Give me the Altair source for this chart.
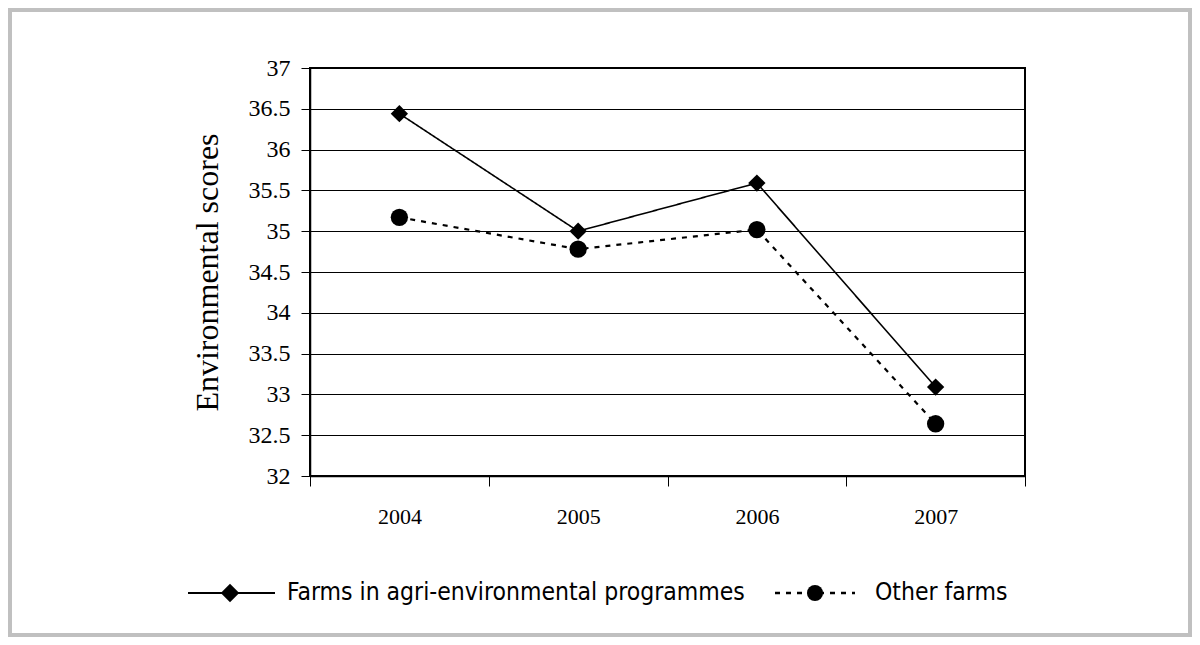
import altair as alt
import pandas as pd

years = ["2004", "2005", "2006", "2007"]
series_names = ["Farms in agri-environmental programmes", "Other farms"]
farms_agri = [36.44, 35.0, 35.59, 33.09]
other_farms = [35.17, 34.78, 35.02, 32.64]
y_ticks = [32, 32.5, 33, 33.5, 34, 34.5, 35, 35.5, 36, 36.5, 37]

rows = []
for y, v in zip(years, farms_agri):
    rows.append({"year": y, "value": v, "series": series_names[0]})
for y, v in zip(years, other_farms):
    rows.append({"year": y, "value": v, "series": series_names[1]})
df = pd.DataFrame(rows)

SERIF = "Liberation Serif"
NARROW = "DejaVu Sans Condensed"

PL, PT, PR, PB = 302, 60, 167, 161
W, H = 715, 408
DASHES = [[1, 0], [5, 6]]
WIDTHS = [1.6, 2.2]
SHAPES = ["diamond", "circle"]

x_enc = alt.X(
    "year:O",
    scale=alt.Scale(type="band", paddingInner=0, paddingOuter=0),
    axis=alt.Axis(
        title=None, labelAngle=0, tickBand="extent", tickSize=10,
        labelPadding=20, labelFont=SERIF, labelFontSize=22, labelColor="black",
        tickColor="black", domainColor="black", domainWidth=1.5, grid=False,
    ),
)
y_enc = alt.Y(
    "value:Q",
    scale=alt.Scale(domain=[32, 37], nice=False, zero=False),
    axis=alt.Axis(
        title="Environmental scores", values=y_ticks, format="~g",
        tickSize=9, labelPadding=11, labelFont=SERIF, labelFontSize=24,
        labelColor="black", tickColor="black", domainColor="black", domainWidth=1.5,
        grid=True, gridColor="black", gridWidth=1,
        titleFont=SERIF, titleFontSize=32, titleFontWeight="normal",
        titleColor="black", titlePadding=24,
    ),
)

lines = alt.Chart(df).mark_line(color="black").encode(
    x=x_enc,
    y=y_enc,
    strokeDash=alt.StrokeDash(
        "series:N",
        scale=alt.Scale(domain=series_names, range=DASHES),
        legend=None,
    ),
    strokeWidth=alt.StrokeWidth(
        "series:N",
        scale=alt.Scale(domain=series_names, range=WIDTHS),
        legend=None,
    ),
)

points = alt.Chart(df).mark_point(filled=True, color="black", opacity=1, size=300).encode(
    x=x_enc,
    y=y_enc,
    shape=alt.Shape(
        "series:N",
        scale=alt.Scale(domain=series_names, range=SHAPES),
        legend=None,
    ),
)

# legend (drawn below the plot area), one entry per series
LEG_Y = 525
leg_pos = [
    {"x1": -122, "x2": -35, "xs": -80, "xt": -23, "size": 340},
    {"x1": 465, "x2": 545, "xs": 505, "xt": 565, "size": 260},
]
one = alt.Data(values=[{}])
legend_layers = []
for i, name in enumerate(series_names):
    p = leg_pos[i]
    legend_layers.append(
        alt.Chart(one).mark_rule(color="black", strokeWidth=WIDTHS[i] + 0.4,
                                 strokeDash=DASHES[i]).encode(
            x=alt.value(p["x1"]), x2=alt.value(p["x2"]), y=alt.value(LEG_Y)
        )
    )
    legend_layers.append(
        alt.Chart(one).mark_point(filled=True, color="black", opacity=1,
                                  shape=SHAPES[i], size=p["size"]).encode(
            x=alt.value(p["xs"]), y=alt.value(LEG_Y)
        )
    )
    legend_layers.append(
        alt.Chart(one).mark_text(text=name, align="left", baseline="middle",
                                 font=NARROW, fontSize=24.5, color="black").encode(
            x=alt.value(p["xt"]), y=alt.value(LEG_Y)
        )
    )

frame = alt.Chart(one).mark_rect(
    filled=False, stroke="#c0c0c0", strokeWidth=4
).encode(
    x=alt.value(-PL + 2), x2=alt.value(W + PR - 2),
    y=alt.value(-PT + 2), y2=alt.value(H + PB - 2),
)

chart = alt.layer(frame, lines, points, *legend_layers).properties(
    width=W, height=H,
    padding={"left": PL, "top": PT, "right": PR, "bottom": PB},
    autosize=alt.AutoSizeParams(type="none"),
    background="white",
).configure_view(stroke="black", strokeWidth=2)

chart.save("out.html", embed_options={"renderer": "svg", "actions": False})
